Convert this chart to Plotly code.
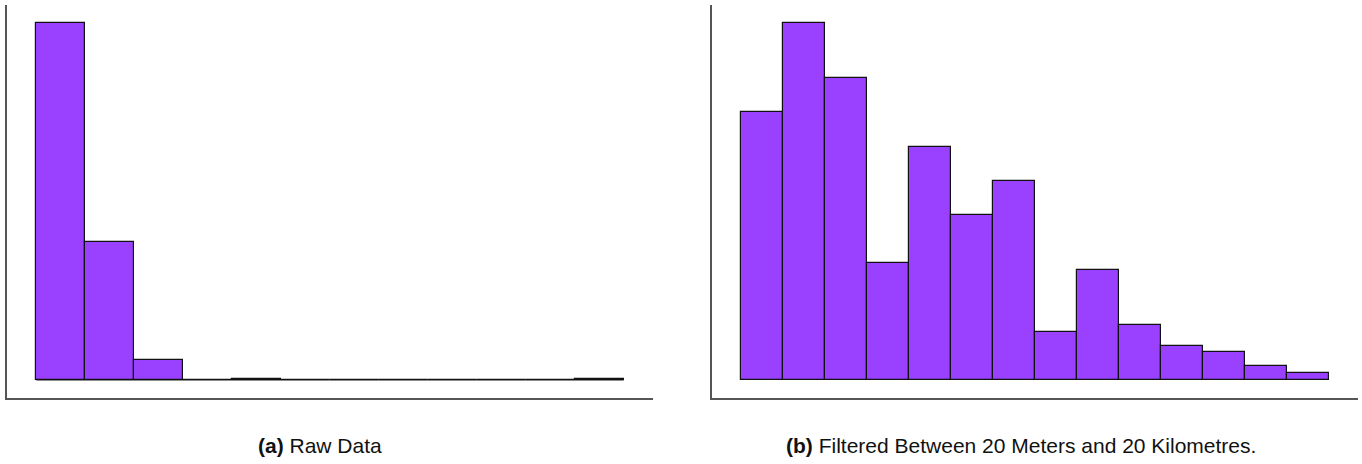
import plotly.graph_objects as go

# Histogram counts per bin (bins indexed from the left edge of each panel)
raw_counts = [4780, 1850, 268, 0, 19, 0, 0, 0, 0, 0, 0, 21]
filtered_counts = [268, 357, 302, 117, 233, 165, 199, 48, 110, 55, 34, 28, 14, 7]

caption_a = "<b>(a)</b> Raw Data"
caption_b = "<b>(b)</b> Filtered Between 20 Meters and 20 Kilometres."

BAR_FILL = "#9A40FF"
EDGE = "#111111"
SPINE = "#555555"
W, H = 1362, 464


def centers(n):
    return [i + 0.5 for i in range(n)]


fig = go.Figure()

fig.add_trace(go.Bar(
    x=centers(len(raw_counts)), y=raw_counts, width=1.0,
    marker=dict(color=BAR_FILL, line=dict(color=EDGE, width=1.2)),
    xaxis="x", yaxis="y", showlegend=False,
))
fig.add_trace(go.Bar(
    x=centers(len(filtered_counts)), y=filtered_counts, width=1.0,
    marker=dict(color=BAR_FILL, line=dict(color=EDGE, width=1.2)),
    xaxis="x2", yaxis="y2", showlegend=False,
))

# baseline under the empty bins of the raw histogram
fig.add_shape(type="line", xref="x", yref="y",
              x0=0, x1=len(raw_counts), y0=0, y1=0,
              line=dict(color="#666666", width=1.2), layer="below")


def padded(lo, hi, frac=0.05):
    span = hi - lo
    return [lo - frac * span, hi + frac * span]


ydom = [1 - 398 / H, 1 - 5 / H]
axis_common = dict(showline=True, linecolor=SPINE, linewidth=1.5,
                   showticklabels=False, ticks="", showgrid=False,
                   zeroline=False, mirror=False, fixedrange=True)

fig.update_layout(
    width=W, height=H,
    margin=dict(l=0, r=0, t=0, b=0),
    paper_bgcolor="white", plot_bgcolor="white",
    bargap=0,
    font=dict(family="Liberation Sans, Arial, sans-serif", size=21, color="#111111"),
    xaxis=dict(domain=[7 / W, 653 / W], range=padded(0, len(raw_counts)),
               anchor="y", **axis_common),
    yaxis=dict(domain=ydom, range=padded(0, max(raw_counts)),
               anchor="x", **axis_common),
    xaxis2=dict(domain=[712 / W, 1358 / W], range=padded(0, len(filtered_counts)),
                anchor="y2", **axis_common),
    yaxis2=dict(domain=ydom, range=padded(0, max(filtered_counts)),
                anchor="x2", **axis_common),
    annotations=[
        dict(text=caption_a, xref="paper", yref="paper",
             x=320 / W, y=1 - 445 / H, xanchor="center",
             yanchor="middle", showarrow=False),
        dict(text=caption_b, xref="paper", yref="paper",
             x=1021 / W, y=1 - 445 / H, xanchor="center",
             yanchor="middle", showarrow=False),
    ],
)

fig.write_html("out.html")
